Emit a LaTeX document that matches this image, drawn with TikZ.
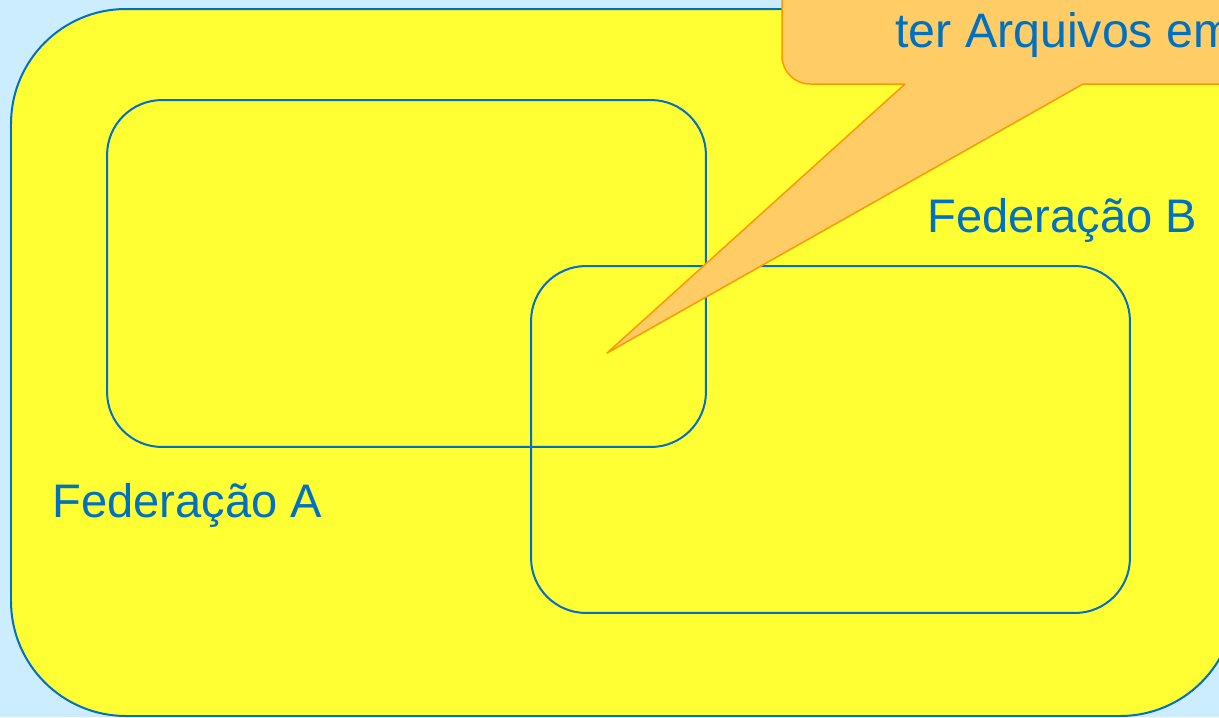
\documentclass[tikz,border=0pt]{standalone}
\usepackage{fontspec}
\setmainfont{Liberation Sans}
\definecolor{sky}{HTML}{CCECFF}
\definecolor{lemon}{HTML}{FFFF33}
\definecolor{fedblue}{HTML}{0070C0}
\definecolor{peach}{HTML}{FFCC66}
\definecolor{amber}{HTML}{FF9900}
\tikzset{fed/.style={draw=fedblue,line width=0.04cm,rounded corners=1.1cm,
  minimum width=11.98cm,minimum height=6.94cm,inner sep=0pt},
 lab/.style={text=fedblue,font=\fontsize{26.8}{32}\selectfont,inner sep=0pt,anchor=base west}}

\begin{document}
\begin{tikzpicture}[x=0.02cm,y=-0.02cm]
 \useasboundingbox (0,0) rectangle (1219,717);
 \clip (0,0) rectangle (1219,717);
 \fill[sky](0,0) rectangle (1219,717);
 % area comum
 \draw[fedblue,fill=lemon,line width=0.04cm,rounded corners=2.3cm](11,9) rectangle (1235,716);
 \node[fed](fedA) at (406.5,273.5){};
 \node[fed](fedB) at (830.5,439.5){};
 \node[lab](labA) at (52,517){Federação A};
 \node[lab](labB) at (927,232){Federação B};
 % balao
 \coordinate(tip) at (607,353);
 \draw[amber,fill=peach,line width=0.03cm,line join=round](905,84) -- (tip) -- (1083,84) -- (1260,84)
  -- (1260,-80) -- (782,-80) -- (782,56) arc (180:90:28) -- cycle;
 \node[lab,font=\fontsize{27.5}{33}\selectfont](note) at (895,47){ter Arquivos em};
\end{tikzpicture}
\end{document}
